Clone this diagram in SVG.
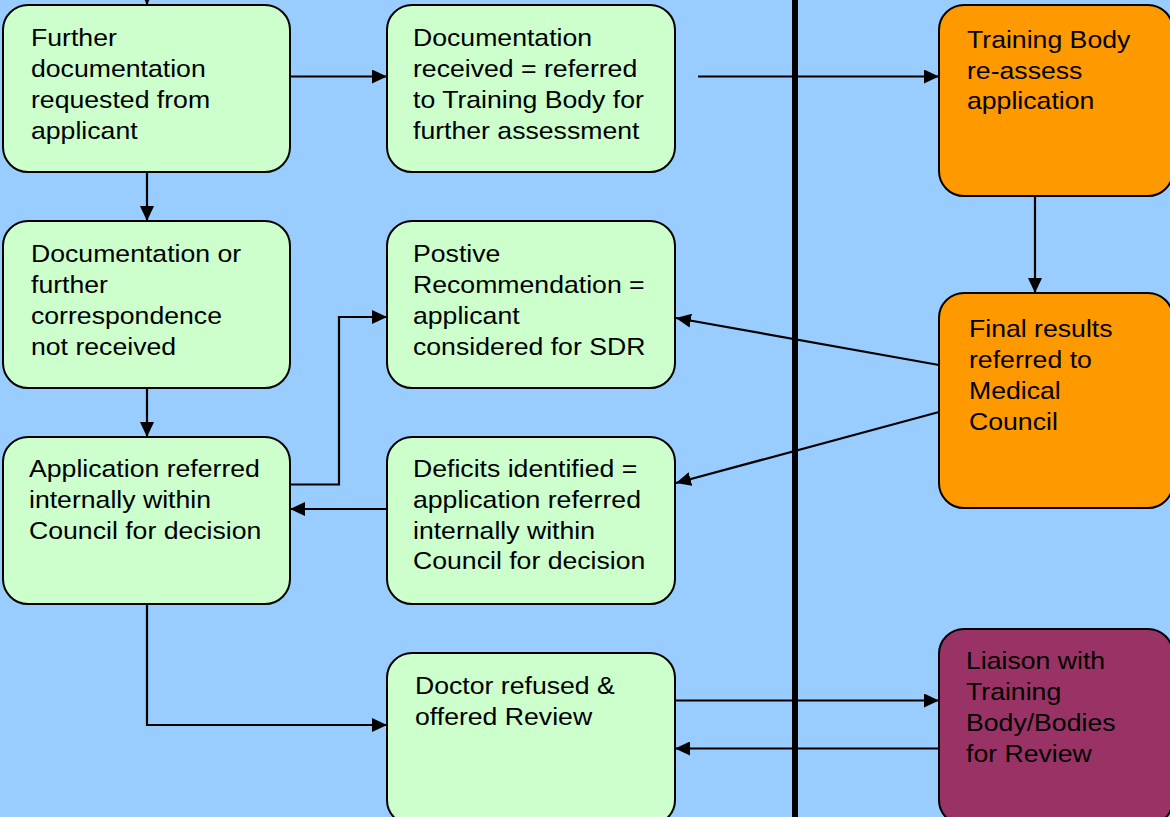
<svg xmlns="http://www.w3.org/2000/svg" width="1170" height="817" viewBox="0 0 1170 817">
<defs>
<marker id="ah" markerUnits="userSpaceOnUse" markerWidth="16" markerHeight="14" refX="15" refY="7" orient="auto">
<path d="M0,0 L15,7 L0,14 Z" fill="#000"/>
</marker>
<style>
.n{stroke:#000;stroke-width:2}
.g{fill:#CCFFCC}
.o{fill:#FF9900}
.p{fill:#993366}
.c{fill:none;stroke:#000;stroke-width:2.2;marker-end:url(#ah)}
text{font-family:"Liberation Sans",Arial,sans-serif;font-size:24px;fill:#000}
</style>
</defs>
<rect x="0" y="0" width="1170" height="817" fill="#99CCFF"/>
<rect x="792" y="-5" width="6" height="830" fill="#000"/>
<g id="connectors">
<line class="c" x1="147" y1="-20" x2="147" y2="5"/>
<line class="c" x1="290" y1="76.5" x2="387" y2="76.5"/>
<line class="c" x1="698" y1="76.5" x2="939" y2="76.5"/>
<line class="c" x1="147" y1="172" x2="147" y2="221"/>
<line class="c" x1="147" y1="388" x2="147" y2="437"/>
<line class="c" x1="1035" y1="196" x2="1035" y2="293"/>
<line class="c" x1="939" y1="365" x2="676" y2="318"/>
<line class="c" x1="939" y1="412" x2="676" y2="483"/>
<polyline class="c" points="290,484.5 339,484.5 339,317 387,317"/>
<line class="c" x1="387" y1="509" x2="290" y2="509"/>
<polyline class="c" points="147,604 147,725 387,725"/>
<line class="c" x1="675" y1="700.5" x2="939" y2="700.5"/>
<line class="c" x1="939" y1="748.5" x2="675" y2="748.5"/>
</g>
<g id="n1">
<rect class="n g" x="3" y="5" width="287" height="167" rx="25"/>
<g transform="translate(31,0) scale(1.11,1)"><text y="46.5">Further</text><text y="77.5">documentation</text><text y="108.5">requested from</text><text y="139.5">applicant</text></g>
</g>
<g id="n2">
<rect class="n g" x="387" y="5" width="288" height="167" rx="25"/>
<g transform="translate(413,0) scale(1.11,1)"><text y="46.5">Documentation</text><text y="77.5">received = referred</text><text y="108.5">to Training Body for</text><text y="139.5">further assessment</text></g>
</g>
<g id="n3">
<rect class="n o" x="939" y="5" width="234" height="191" rx="25"/>
<g transform="translate(967,0) scale(1.11,1)"><text y="48.5">Training Body</text><text y="79">re-assess</text><text y="109.5">application</text></g>
</g>
<g id="n4">
<rect class="n g" x="3" y="221" width="287" height="167" rx="25"/>
<g transform="translate(31,0) scale(1.11,1)"><text y="262.5">Documentation or</text><text y="293.5">further</text><text y="324.5">correspondence</text><text y="355.5">not received</text></g>
</g>
<g id="n5">
<rect class="n g" x="387" y="221" width="288" height="167" rx="25"/>
<g transform="translate(413,0) scale(1.11,1)"><text y="262.5">Postive</text><text y="293.5">Recommendation =</text><text y="324.5">applicant</text><text y="355.5">considered for SDR</text></g>
</g>
<g id="n6">
<rect class="n o" x="939" y="293" width="234" height="215" rx="25"/>
<g transform="translate(969,0) scale(1.11,1)"><text y="337.5">Final results</text><text y="368.5">referred to</text><text y="399.5">Medical</text><text y="430">Council</text></g>
</g>
<g id="n7">
<rect class="n g" x="3" y="437" width="287" height="167" rx="25"/>
<g transform="translate(29,0) scale(1.11,1)"><text y="477.5">Application referred</text><text y="508.5">internally within</text><text y="539">Council for decision</text></g>
</g>
<g id="n8">
<rect class="n g" x="387" y="437" width="288" height="167" rx="25"/>
<g transform="translate(413,0) scale(1.11,1)"><text y="477.5">Deficits identified =</text><text y="508.5">application referred</text><text y="539">internally within</text><text y="569">Council for decision</text></g>
</g>
<g id="n9">
<rect class="n g" x="387" y="653" width="288" height="172" rx="25"/>
<g transform="translate(415,0) scale(1.11,1)"><text y="694.5">Doctor refused &amp;</text><text y="725.5">offered Review</text></g>
</g>
<g id="n10">
<rect class="n p" x="939" y="629" width="234" height="196" rx="25"/>
<g transform="translate(966,0) scale(1.11,1)"><text y="669.5">Liaison with</text><text y="700.5">Training</text><text y="731.5">Body/Bodies</text><text y="762.5">for Review</text></g>
</g>
</svg>
